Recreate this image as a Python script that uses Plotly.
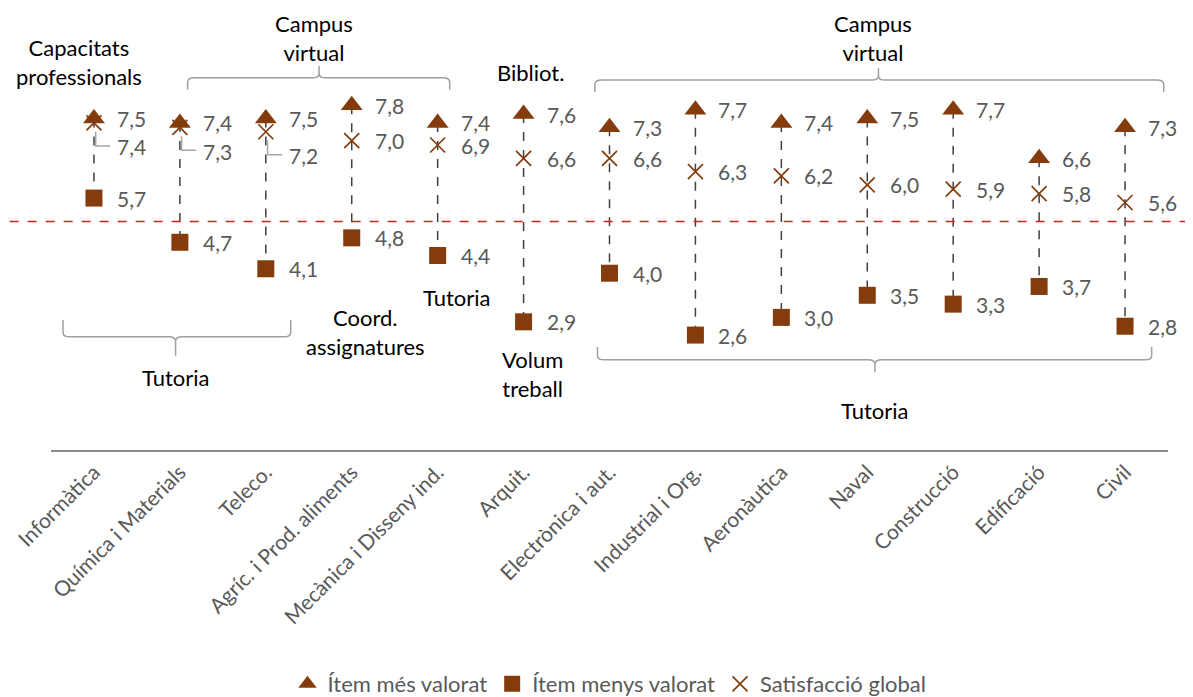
import plotly.graph_objects as go

# dades
categories = ["Informàtica", "Química i Materials", "Teleco.", "Agríc. i Prod. aliments",
              "Mecànica i Disseny ind.", "Arquit.", "Electrònica i aut.", "Industrial i Org.",
              "Aeronàutica", "Naval", "Construcció", "Edificació", "Civil"]
mes_valorat = [7.5, 7.4, 7.5, 7.8, 7.4, 7.6, 7.3, 7.7, 7.4, 7.5, 7.7, 6.6, 7.3]
menys_valorat = [5.7, 4.7, 4.1, 4.8, 4.4, 2.9, 4.0, 2.6, 3.0, 3.5, 3.3, 3.7, 2.8]
satisfaccio = [7.4, 7.3, 7.2, 7.0, 6.9, 6.6, 6.6, 6.3, 6.2, 6.0, 5.9, 5.8, 5.6]
series_names = ["Ítem més valorat", "Ítem menys valorat", "Satisfacció global"]
llindar = 5.17

BROWN = "#843C0C"
GREY_TXT = "#595959"
FONT = "Lato, Carlito, Calibri, sans-serif"

xs = list(range(len(categories)))

fig = go.Figure()

# linies discontinues entre màxim i mínim
lx, ly = [], []
for i, hi, lo in zip(xs, mes_valorat, menys_valorat):
    lx += [i, i, None]
    ly += [hi, lo, None]
fig.add_trace(go.Scatter(x=lx, y=ly, mode="lines", showlegend=False, hoverinfo="skip",
                         line=dict(color="#404040", width=1.5, dash="dash")))

fig.add_trace(go.Scatter(x=xs, y=mes_valorat, mode="markers", name=series_names[0],
                         marker=dict(symbol="triangle-up", size=19, color=BROWN)))
fig.add_trace(go.Scatter(x=xs, y=menys_valorat, mode="markers", name=series_names[1],
                         marker=dict(symbol="square", size=17, color=BROWN)))
fig.add_trace(go.Scatter(x=xs, y=satisfaccio, mode="markers", name=series_names[2],
                         marker=dict(symbol="x-thin", size=15, color=BROWN,
                                     line=dict(color=BROWN, width=1.7))))

def fmt(v):
    return f"{v:.1f}".replace(".", ",")

annotations = []
shapes = []
lab = dict(showarrow=False, xanchor="left", xshift=21, font=dict(family=FONT, size=21, color=GREY_TXT))
for i in xs:
    annotations.append(dict(x=i, y=mes_valorat[i], text=fmt(mes_valorat[i]), **lab))
    annotations.append(dict(x=i, y=menys_valorat[i], text=fmt(menys_valorat[i]), **lab))
    if mes_valorat[i] - satisfaccio[i] < 0.35:
        annotations.append(dict(x=i, y=satisfaccio[i], text=fmt(satisfaccio[i]), yshift=-24, **lab))
        shapes.append(dict(type="path", xref="x", yref="y",
                           path=f"M {i+0.02},{satisfaccio[i]-0.2} L {i+0.02},{satisfaccio[i]-0.52} L {i+0.19},{satisfaccio[i]-0.52}",
                           line=dict(color="#A6A6A6", width=1.5)))
    else:
        annotations.append(dict(x=i, y=satisfaccio[i], text=fmt(satisfaccio[i]), **lab))

# textos explicatius
txt = dict(showarrow=False, font=dict(family=FONT, size=22, color="#000000"))
for t, x, y in [("Capacitats<br>professionals", -0.17, 8.78),
                ("Campus<br>virtual", 2.56, 9.32),
                ("Bibliot.", 5.08, 8.55),
                ("Campus<br>virtual", 9.07, 9.32),
                ("Coord.<br>assignatures", 3.16, 2.67),
                ("Tutoria", 4.22, 3.46),
                ("Volum<br>treball", 5.10, 1.72),
                ("Tutoria", 0.95, 1.63),
                ("Tutoria", 9.09, 0.90)]:
    annotations.append(dict(x=x, y=y, text=t, **txt))


def brace(x0, x1, xc, ym, yend, ytip, dx=0.08, dy=0.1):
    s = 1 if yend > ym else -1
    t = 1 if ytip > ym else -1
    return (f"M {x0},{yend} L {x0},{ym + s*dy} Q {x0},{ym} {x0+dx},{ym} "
            f"L {xc-dx},{ym} Q {xc},{ym} {xc},{ym + t*dy} L {xc},{ytip} "
            f"M {xc},{ym + t*dy} Q {xc},{ym} {xc+dx},{ym} "
            f"L {x1-dx},{ym} Q {x1},{ym} {x1},{ym + s*dy} L {x1},{yend}")

for b in [(1.09, 4.14, 2.62, 8.42, 8.15, 8.69),
          (5.83, 12.45, 9.13, 8.37, 8.10, 8.64),
          (-0.36, 2.29, 0.95, 2.56, 2.94, 2.13),
          (5.86, 12.31, 9.09, 2.04, 2.33, 1.76)]:
    shapes.append(dict(type="path", xref="x", yref="y", path=brace(*b),
                       line=dict(color="#A0A0A0", width=1.5)))

# línia de referència
shapes.append(dict(type="line", xref="paper", yref="y", x0=-0.037, x1=1.04, y0=llindar, y1=llindar,
                   line=dict(color="#D61E1E", width=1.6, dash="dash")))

fig.update_layout(
    width=1193, height=697,
    margin=dict(l=43, r=33, t=0, b=246),
    plot_bgcolor="white", paper_bgcolor="white",
    font=dict(family=FONT, color=GREY_TXT),
    xaxis=dict(range=[-0.5, 12.5], tickvals=xs, ticktext=categories, tickangle=-45,
               showline=True, linecolor="#8C8C8C", linewidth=1.5, showgrid=False,
               zeroline=False, ticks="", tickfont=dict(family=FONT, size=21, color=GREY_TXT)),
    yaxis=dict(range=[0, 10], visible=False, showgrid=False, zeroline=False),
    legend=dict(orientation="h", x=0.5, xanchor="center", y=-0.53, yanchor="middle",
                font=dict(family=FONT, size=22, color=GREY_TXT), itemwidth=30),
    annotations=annotations,
    shapes=shapes,
)

fig.write_html("out.html")
